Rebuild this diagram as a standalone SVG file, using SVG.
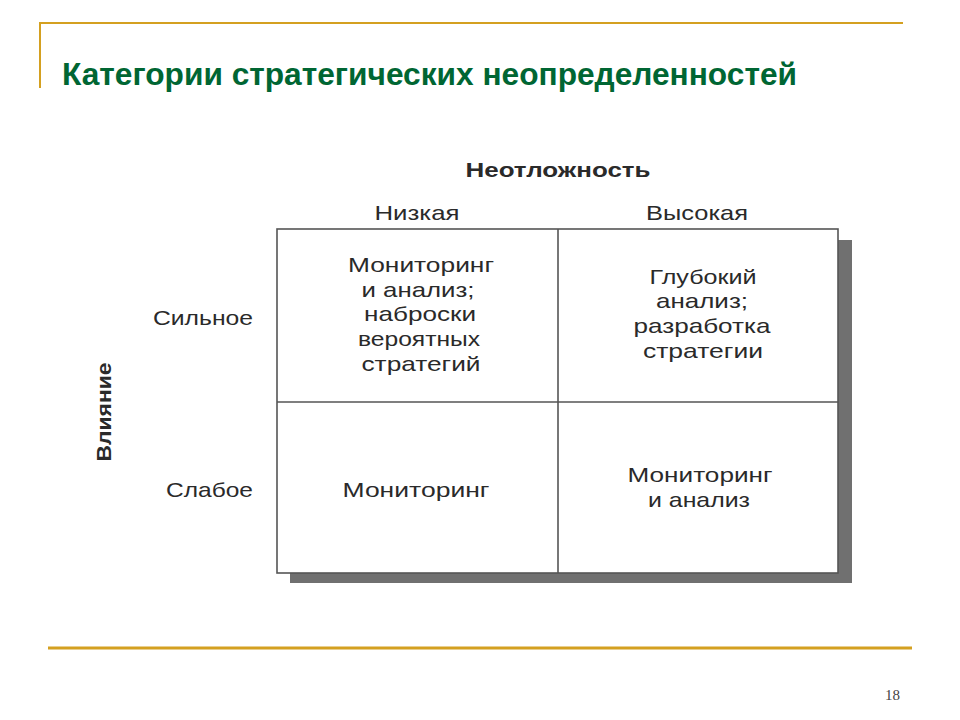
<svg xmlns="http://www.w3.org/2000/svg" width="960" height="720" viewBox="0 0 960 720">
<style>
.t{font-family:"Liberation Sans",Arial,sans-serif;fill:#2a2a2a;font-size:21px}
.c{text-anchor:middle}
.b{font-weight:bold}
.gl{stroke:#555;stroke-width:1.6;fill:none}
.gold{stroke:#D4A020;fill:none}
</style>
<rect width="960" height="720" fill="#fff"/>
<g id="frame">
<line class="gold" x1="40" y1="23" x2="903" y2="23" stroke-width="2"/>
<line class="gold" x1="40" y1="22" x2="40" y2="88" stroke-width="2"/>
<line class="gold" x1="48" y1="648" x2="912" y2="648" stroke-width="3"/>
</g>
<text id="title" x="62" y="85" font-family="'Liberation Sans',Arial,sans-serif" font-weight="bold" font-size="31" fill="#006633" textLength="735" lengthAdjust="spacingAndGlyphs">Категории стратегических неопределенностей</text>
<text id="page" x="900" y="700" text-anchor="end" font-family="'Liberation Serif',serif" font-size="15" fill="#444">18</text>
<g id="matrix">
<rect x="838" y="240" width="14" height="343" fill="#707070"/>
<rect x="290" y="573" width="562" height="10" fill="#707070"/>
<rect class="gl" x="277" y="229" width="561" height="344" fill="#fff"/>
<line class="gl" x1="558" y1="229" x2="558" y2="573"/>
<line class="gl" x1="277" y1="402" x2="838" y2="402"/>
</g>
<g id="axis-labels">
<text class="t c b" x="558" y="177" font-size="20" textLength="185" lengthAdjust="spacingAndGlyphs">Неотложность</text>
<text class="t c" x="417" y="220" textLength="85" lengthAdjust="spacingAndGlyphs">Низкая</text>
<text class="t c" x="697" y="220" textLength="102" lengthAdjust="spacingAndGlyphs">Высокая</text>
<text class="t" x="253" y="325" text-anchor="end" textLength="100" lengthAdjust="spacingAndGlyphs">Сильное</text>
<text class="t" x="253" y="497" text-anchor="end" textLength="87" lengthAdjust="spacingAndGlyphs">Слабое</text>
<text class="t c b" transform="translate(111,412) rotate(-90)" x="0" y="0" font-size="20" textLength="99" lengthAdjust="spacingAndGlyphs">Влияние</text>
</g>
<g id="cell-strong-low">
<text class="t c" x="421" y="272" textLength="146" lengthAdjust="spacingAndGlyphs">Мониторинг</text>
<text class="t c" x="418" y="297" textLength="113" lengthAdjust="spacingAndGlyphs">и анализ;</text>
<text class="t c" x="420" y="321" textLength="112" lengthAdjust="spacingAndGlyphs">наброски</text>
<text class="t c" x="419" y="346" textLength="122" lengthAdjust="spacingAndGlyphs">вероятных</text>
<text class="t c" x="421" y="371" textLength="119" lengthAdjust="spacingAndGlyphs">стратегий</text>
</g>
<g id="cell-strong-high">
<text class="t c" x="703" y="284" textLength="107" lengthAdjust="spacingAndGlyphs">Глубокий</text>
<text class="t c" x="702" y="308" textLength="92" lengthAdjust="spacingAndGlyphs">анализ;</text>
<text class="t c" x="702" y="333" textLength="137" lengthAdjust="spacingAndGlyphs">разработка</text>
<text class="t c" x="703" y="358" textLength="120" lengthAdjust="spacingAndGlyphs">стратегии</text>
</g>
<g id="cell-weak-low">
<text class="t c" x="416" y="497" textLength="147" lengthAdjust="spacingAndGlyphs">Мониторинг</text>
</g>
<g id="cell-weak-high">
<text class="t c" x="700" y="482" textLength="145" lengthAdjust="spacingAndGlyphs">Мониторинг</text>
<text class="t c" x="699" y="507" textLength="102" lengthAdjust="spacingAndGlyphs">и анализ</text>
</g>
<g id="connectors"></g>
</svg>
